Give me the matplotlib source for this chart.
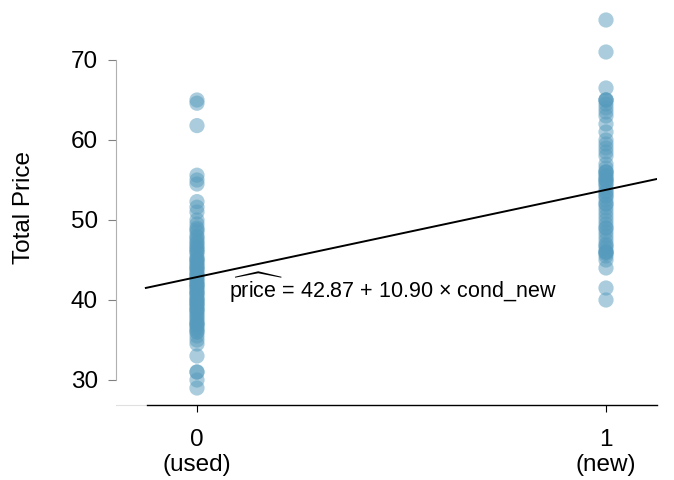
import matplotlib
matplotlib.use("Agg")
import matplotlib.pyplot as plt

plt.rcParams['font.family'] = ['Liberation Sans', 'DejaVu Sans']
plt.rcParams['mathtext.fontset'] = 'custom'
plt.rcParams['mathtext.rm'] = 'Liberation Sans'
plt.rcParams['mathtext.it'] = 'Liberation Sans:italic'

# Data
used_prices = [65.0, 64.6, 61.8, 55.6, 55.0, 54.5, 52.3, 51.6, 51.0, 50.0,
               49.5, 49.0, 48.5, 48.0, 47.5, 47.0, 46.7, 46.5, 46.0, 46.0,
               45.5, 45.0, 45.0, 44.7, 44.5, 44.0, 44.0, 43.5, 43.3, 43.0,
               42.5, 42.0, 42.0, 41.5, 41.0, 40.7, 40.5, 40.0, 40.0, 39.5,
               39.5, 39.0, 38.8, 38.5, 38.0, 37.5, 37.0, 37.0, 36.5, 36.0,
               36.0, 35.5, 34.5, 33.0, 31.0, 31.0, 29.0, 47.2, 45.2, 43.8,
               42.3, 41.8, 41.2, 40.2, 39.2, 38.2, 37.2, 36.3, 48.8, 47.8,
               46.3, 44.3, 43.1, 42.7, 41.6, 40.9, 39.7, 38.7, 37.7, 36.8,
               35.0, 30.0]
new_prices = [75.0, 71.0, 66.5, 65.0, 65.0, 64.5, 64.0, 63.5, 63.0, 62.0,
              61.0, 60.0, 59.5, 59.0, 58.5, 58.0, 57.0, 56.5, 56.0, 56.0,
              55.5, 55.5, 55.0, 55.0, 54.5, 54.0, 53.5, 53.0, 53.0, 52.5,
              52.0, 51.5, 51.0, 50.5, 50.0, 49.5, 49.0, 48.5, 48.0, 47.5,
              47.0, 46.8, 46.5, 46.0, 46.0, 45.8, 45.5, 45.0, 44.0, 41.5,
              40.0, 55.0, 56.0, 53.5, 65.0, 49.0, 46.0, 54.5, 52.0]
cond_values = [0, 1]
tick_labels = ["0\n(used)", "1\n(new)"]
intercept = 42.87
slope = 10.90
yticks = [30, 40, 50, 60, 70]

point_color = "#569BBD"

fig = plt.figure(figsize=(6.74, 4.8), dpi=100)
ax = fig.add_axes([116/674, 75/480, 541/674, 395/480])

ax.scatter([cond_values[0]] * len(used_prices), used_prices, s=120,
           color=point_color, alpha=0.5, edgecolors='none', zorder=2)
ax.scatter([cond_values[1]] * len(new_prices), new_prices, s=120,
           color=point_color, alpha=0.5, edgecolors='none', zorder=2)

xlo, xhi = -0.198, 1.1247
line_x0, line_x1 = -0.125, 1.1247
ax.plot([line_x0, line_x1], [intercept + slope * line_x0, intercept + slope * line_x1],
        color='black', lw=1.4, zorder=3)

ax.set_xlim(xlo, xhi)
ax.set_ylim(26.875, 76.25)

for s in ['top', 'right']:
    ax.spines[s].set_visible(False)
ax.spines['left'].set_bounds(30, 70)
ax.spines['left'].set_color('#b0b0b0')
ax.spines['left'].set_linewidth(0.8)
ax.spines['bottom'].set_bounds(-0.122, 1.1247)
ax.spines['bottom'].set_color('black')
ax.spines['bottom'].set_linewidth(1.0)
ax.axhline(26.875, xmin=0, xmax=0.06, color='#e0e0e0', lw=0.8, clip_on=False)

ax.set_yticks(yticks)
ax.set_yticklabels([str(v) for v in yticks], fontsize=17.5)
ax.tick_params(axis='y', length=6, width=0.8, color='#808080', pad=7)
ax.set_xticks(cond_values)
ax.set_xticklabels(tick_labels, fontsize=17.5, linespacing=1.2)
ax.tick_params(axis='x', length=5, width=0.8, color='black', pad=12)

ax.set_ylabel("Total Price", fontsize=17.5)
ax.yaxis.set_label_coords(-0.15, 0.5)

ax.text(0.078, 40.3, r"$\widehat{\mathrm{price}}$" + " = 42.87 + 10.90 \u00d7 cond_new",
        fontsize=15.5, ha='left', va='baseline')

fig.savefig("out.png", dpi=100)
